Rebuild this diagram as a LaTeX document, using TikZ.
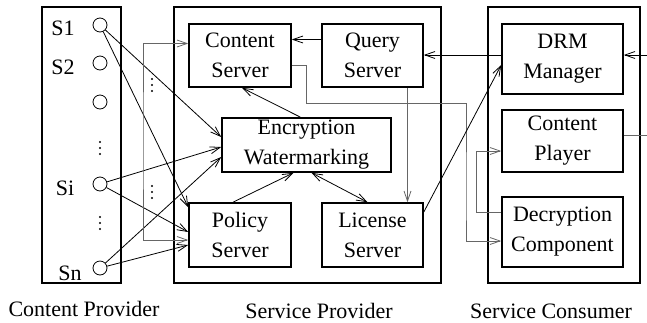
\documentclass[tikz,border=0pt]{standalone}
\usepackage{fontspec}
\setmainfont{Liberation Serif}
\usetikzlibrary{arrows.meta}
\definecolor{LineGray}{HTML}{666666}
\tikzset{
  part/.style={draw, line width=1.6pt},
  unit/.style={draw, line width=1.6pt, align=center, inner sep=0pt},
  src/.style={draw, circle, line width=0.8pt, minimum size=14pt, inner sep=0pt},
  conn/.style={line width=0.8pt, -{Straight Barb[length=10pt,width=7pt]}},
  both/.style={line width=0.8pt, {Straight Barb[length=10pt,width=7pt]}-{Straight Barb[length=10pt,width=7pt]}},
  bus/.style={LineGray},
}

\begin{document}
\begin{tikzpicture}[x=1pt, y=-1pt, font=\fontsize{22}{30}\selectfont]
    \useasboundingbox (0,0) rectangle (647,322);
    % the three parties
    \node[part, minimum width=79pt, minimum height=276pt] at (81.5,145) (cp) {};
    \node[part, minimum width=267pt, minimum height=276pt] at (307.5,145) (sp) {};
    \node[part, minimum width=152pt, minimum height=276pt] at (564,145) (sc) {};
    \node[anchor=base] at (84,316) (cplabel) {Content Provider};
    \node[anchor=base] at (319,318) (splabel) {Service Provider};
    \node[anchor=base] at (551,318) (sclabel) {Service Consumer};

    % sources
    \node[src] at (100,25) (s1) {};
    \node[src] at (100,63) (s2) {};
    \node[src] at (100,102) (s3) {};
    \node[src] at (100,184) (si) {};
    \node[src] at (100,268) (sn) {};
    \node[anchor=base] at (63,35) (s1label) {S1};
    \node[anchor=base] at (63,74) (s2label) {S2};
    \node[anchor=base] at (65,195) (silabel) {Si};
    \node[anchor=base] at (70,280) (snlabel) {Sn};
    % vertical dots
    \foreach \x/\y in {100/148, 100/223, 152/85, 152/192}
      \foreach \d in {-6,0,6}
        \fill (\x,\y+\d) circle (1.2pt);

    % service provider
    \node[unit, minimum width=102pt, minimum height=63pt] at (240,55.5) (cs) {Content\\Server};
    \node[unit, minimum width=101pt, minimum height=63pt] at (372.5,55.5) (qs) {Query\\Server};
    \node[unit, minimum width=169pt, minimum height=54pt] at (306.5,145) (enc) {Encryption\\Watermarking};
    \node[unit, minimum width=102pt, minimum height=64pt] at (240,235) (pol) {Policy\\Server};
    \node[unit, minimum width=101pt, minimum height=64pt] at (372.5,235) (lic) {License\\Server};

    % service consumer
    \node[unit, minimum width=121pt, minimum height=70pt] at (562.5,59) (drm) {DRM\\Manager};
    \node[unit, minimum width=121pt, minimum height=62pt] at (562.5,141) (ply) {Content\\Player};
    \node[unit, minimum width=121pt, minimum height=70pt] at (562.5,232) (dec) {Decryption\\Component};
    \coordinate (outa) at (647,55);
    \coordinate (outb) at (647,135);

    \draw[conn] (s1) -- ([yshift=8pt]enc.west);
    \draw[conn] (s1) -- ([yshift=-5pt]pol.north west);
    \draw[conn] (si) -- ([yshift=-2pt]enc.west);
    \draw[conn] (si) -- ([yshift=3pt]pol.west);
    \draw[conn] (sn) -- ([yshift=-12pt]enc.west);
    \draw[conn] (sn) -- ([yshift=-10pt]pol.west);
    \draw[both, bus] ([yshift=12pt]cs.west) -| (143,140) |- ([yshift=-5pt]pol.west);
    \draw[conn] ([yshift=16pt]qs.west) -- ([yshift=16pt]cs.east);
    \draw[conn] ([yshift=4pt]drm.west) -- ([yshift=4pt]drm.west -| qs.east);
    \draw[conn] ([xshift=-6pt]enc.north) -- ([xshift=2pt]cs.south);
    \draw[conn, bus] ([yshift=-10pt]cs.east) -| (306,103) -| (466,200) |- ([yshift=-9pt]dec.west);
    \draw[conn, bus] ([xshift=35pt]qs.south) -- ([xshift=35pt]lic.north);
    \draw[conn] ([xshift=-7pt]pol.north) -- ([xshift=-13pt]enc.south);
    \draw[both] ([xshift=5pt]enc.south) -- ([xshift=-5pt]lic.north);
    \draw[conn] ([yshift=23pt]lic.east) -- ([yshift=-6pt]drm.west);
    \draw[conn, bus] ([yshift=20pt]dec.west) -- ++(-25,0) |- ([yshift=-10pt]ply.west);
    \draw[line width=0.8pt, bus] ([yshift=6pt]ply.east) -- (outb);
    \draw[conn] (outa) -- ([yshift=4pt]drm.east);
  \end{tikzpicture}
\end{document}
